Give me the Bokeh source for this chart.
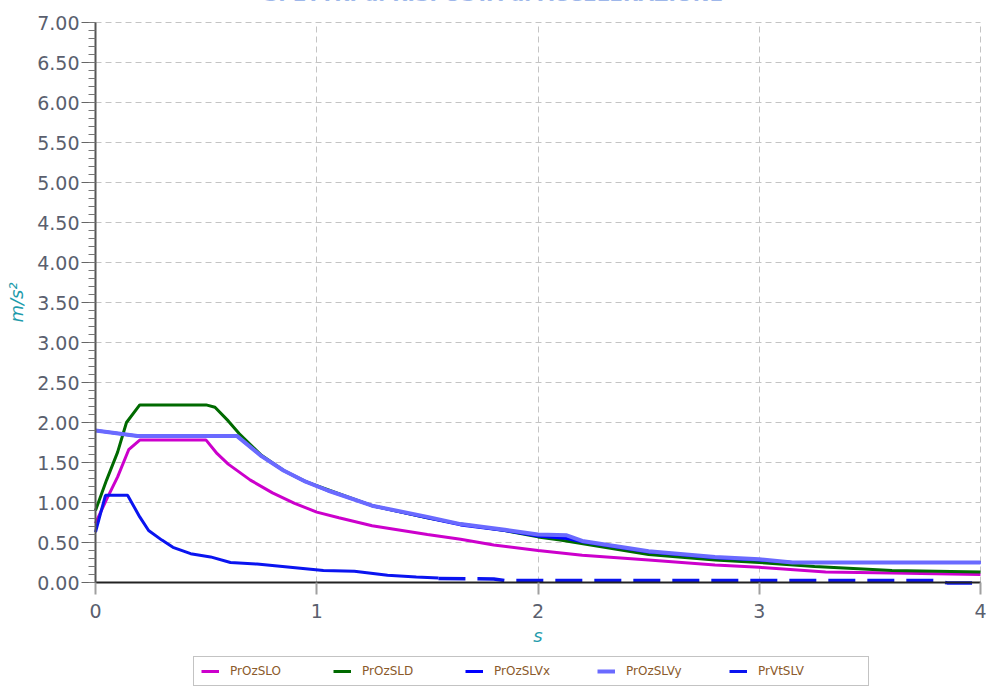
from bokeh.plotting import figure
from bokeh.models import Range1d, SingleIntervalTicker, PrintfTickFormatter, Legend, LegendItem, Label
from bokeh.embed import file_html
from bokeh.resources import INLINE

# ---- data ----
title_text = "SPETTRI di RISPOSTA di ACCELERAZIONE"
x_label = "s"
y_label = "m/s²"
series_names = ["PrOzSLO", "PrOzSLD", "PrOzSLVx", "PrOzSLVy", "PrVtSLV"]

t_slo = [0, 0.05, 0.1, 0.15, 0.2, 0.5, 0.55, 0.6, 0.7, 0.8, 0.9, 1.0, 1.1, 1.25, 1.5, 1.65, 1.8, 2.0, 2.2, 2.5, 2.8, 3.0, 3.3, 3.6, 4.0]
a_slo = [0.74, 1.04, 1.32, 1.66, 1.78, 1.78, 1.61, 1.48, 1.28, 1.12, 0.99, 0.88, 0.81, 0.71, 0.60, 0.54, 0.47, 0.40, 0.34, 0.28, 0.22, 0.19, 0.13, 0.12, 0.10]

t_sld = [0, 0.05, 0.1, 0.14, 0.2, 0.5, 0.54, 0.6, 0.65, 0.75, 0.85, 0.95, 1.05, 1.25, 1.5, 1.65, 1.85, 2.0, 2.1, 2.5, 2.8, 3.0, 3.25, 3.6, 4.0]
a_sld = [0.90, 1.28, 1.63, 2.00, 2.22, 2.22, 2.19, 2.02, 1.86, 1.59, 1.40, 1.26, 1.16, 0.96, 0.81, 0.73, 0.65, 0.57, 0.53, 0.35, 0.28, 0.25, 0.20, 0.15, 0.13]

t_slvx = [0, 0.19, 0.64, 0.75, 0.85, 0.95, 1.05, 1.25, 1.5, 1.65, 1.85, 2.0, 2.13, 2.2, 2.5, 2.8, 3.0, 3.15, 4.0]
a_slvx = [1.90, 1.83, 1.83, 1.58, 1.40, 1.26, 1.15, 0.96, 0.81, 0.72, 0.65, 0.58, 0.55, 0.51, 0.38, 0.31, 0.28, 0.25, 0.25]

t_slvy = [0, 0.19, 0.64, 0.75, 0.85, 0.95, 1.05, 1.25, 1.5, 1.65, 1.85, 2.0, 2.13, 2.2, 2.5, 2.8, 3.0, 3.15, 4.0]
a_slvy = [1.90, 1.83, 1.83, 1.58, 1.40, 1.26, 1.15, 0.96, 0.82, 0.73, 0.66, 0.60, 0.59, 0.52, 0.39, 0.32, 0.29, 0.25, 0.25]

t_vt = [0, 0.045, 0.145, 0.2, 0.24, 0.3, 0.35, 0.43, 0.52, 0.61, 0.73, 0.88, 1.03, 1.17, 1.32, 1.45, 1.55]
a_vt = [0.63, 1.09, 1.09, 0.82, 0.65, 0.53, 0.44, 0.36, 0.32, 0.25, 0.23, 0.19, 0.15, 0.14, 0.09, 0.07, 0.055]
t_vt_tail = [1.55, 1.8, 1.85, 3.8, 3.85, 3.97]
a_vt_tail = [0.05, 0.045, 0.025, 0.025, -0.005, -0.005]

y_min, y_max = 0.0, 7.0
x_min, x_max = 0.0, 4.0

colors = ["#cc00cc", "#006a00", "#0000ff", "#6a6aff", "#0a14f0"]

FONT = "DejaVu Sans"
TICK_COLOR = "#5a5f6e"
LABEL_COLOR = "#1e9bab"

# the frame spans the whole canvas; axes are pinned at x=0 / y=0
W, H = 986, 687
LEFT_PAD, RIGHT_PAD, TOP_PAD = 95, 6, 22
PX_PER_Y = 80.0
PX_PER_X = (W - LEFT_PAD - RIGHT_PAD) / (x_max - x_min)
y_lo = y_max - (H - TOP_PAD) / PX_PER_Y
y_hi = y_max + TOP_PAD / PX_PER_Y
x_lo = x_min - LEFT_PAD / PX_PER_X
x_hi = x_max + RIGHT_PAD / PX_PER_X

p = figure(width=W, height=H, x_range=Range1d(x_lo, x_hi), y_range=Range1d(y_lo, y_hi),
           output_backend="svg", toolbar_location=None,
           min_border_left=0, min_border_right=0, min_border_top=0, min_border_bottom=0)
p.outline_line_color = None
p.background_fill_color = "white"
p.border_fill_color = "white"

# axes
xa = p.xaxis[0]
ya = p.yaxis[0]
xa.fixed_location = 0
ya.fixed_location = 0
xa.bounds = (x_min, x_max)
ya.bounds = (y_min, y_max)
xa.ticker = SingleIntervalTicker(interval=1, num_minor_ticks=0)
ya.ticker = SingleIntervalTicker(interval=0.5, num_minor_ticks=5)
ya.formatter = PrintfTickFormatter(format="%.2f")
for ax in (xa, ya):
    ax.major_label_text_font = FONT
    ax.major_label_text_font_size = "19px"
    ax.major_label_text_color = TICK_COLOR
    ax.axis_label_text_font = FONT
    ax.axis_label_text_font_size = "18px"
    ax.axis_label_text_font_style = "italic"
    ax.axis_label_text_color = LABEL_COLOR
xa.axis_label = x_label
ya.axis_label = y_label
xa.axis_line_color = "#222222"
xa.axis_line_width = 2
xa.major_tick_line_color = "#a0a0a0"
xa.major_tick_line_width = 2
xa.major_tick_out = 12
xa.major_tick_in = 0
xa.minor_tick_line_color = None
xa.major_label_standoff = 9
xa.axis_label_standoff = 4
ya.axis_line_color = "#555555"
ya.axis_line_width = 2
ya.major_tick_line_color = "#666666"
ya.major_tick_line_width = 1
ya.major_tick_out = 14
ya.major_tick_in = 0
ya.minor_tick_line_color = "#777777"
ya.minor_tick_out = 7
ya.minor_tick_in = 0
ya.major_label_standoff = 2
ya.axis_label_standoff = 7

# grid
p.xgrid[0].bounds = (x_min, x_max)
p.xgrid[0].cross_bounds = (y_min, y_max)
p.ygrid[0].bounds = (y_min, y_max)
p.ygrid[0].cross_bounds = (x_min, x_max)
for g in (p.xgrid[0], p.ygrid[0]):
    g.grid_line_color = "#c4c4c4"
    g.grid_line_dash = "6 4"
    g.grid_line_width = 1

# lines
r_slo = p.line(t_slo, a_slo, line_color=colors[0], line_width=3)
r_sld = p.line(t_sld, a_sld, line_color=colors[1], line_width=3)
r_slvx = p.line(t_slvx, a_slvx, line_color=colors[2], line_width=3)
r_slvy = p.line(t_slvy, a_slvy, line_color=colors[3], line_width=4)
r_vt = p.line(t_vt, a_vt, line_color=colors[4], line_width=3)
r_vt2 = p.line(t_vt_tail, a_vt_tail, line_color=colors[4], line_width=3.5, line_dash="27 12")

# title (mostly cut off at the top of the page, as in the reference)
p.add_layout(Label(x=493, y=H - 5, x_units="screen", y_units="screen", text=title_text,
                   text_align="center", text_baseline="bottom",
                   text_font=FONT, text_font_size="20px", text_font_style="bold",
                   text_color="#4a78d8"))

legend = Legend(items=[LegendItem(label=series_names[0], renderers=[r_slo]),
                       LegendItem(label=series_names[1], renderers=[r_sld]),
                       LegendItem(label=series_names[2], renderers=[r_slvx]),
                       LegendItem(label=series_names[3], renderers=[r_slvy]),
                       LegendItem(label=series_names[4], renderers=[r_vt])],
                orientation="horizontal", location=(193, 1),
                label_text_font=FONT, label_text_font_size="12px", label_text_color="#8b5a2b",
                glyph_width=18, glyph_height=10, label_standoff=11, label_width=103,
                label_height=12, spacing=0,
                padding=7, margin=0, border_line_color="#888888", border_line_width=1,
                background_fill_color="white", background_fill_alpha=1.0)
p.add_layout(legend)

open("out.html", "w").write(file_html(p, INLINE))
